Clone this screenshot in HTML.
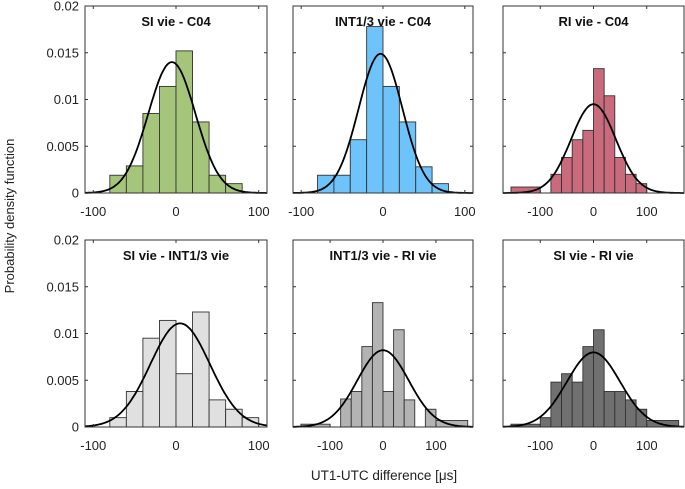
<!DOCTYPE html>
<html><head><meta charset="utf-8"><style>
body{margin:0;background:#fff}
svg{display:block;font-family:"Liberation Sans",Arial,sans-serif}
</style></head><body>
<svg id="chart" width="685" height="489" viewBox="0 0 685 489" xmlns="http://www.w3.org/2000/svg">
<text x="0" y="0" transform="translate(14,216) rotate(-90)" text-anchor="middle" font-size="13" fill="#222">Probability density function</text>
<text x="384" y="480" text-anchor="middle" font-size="13.5" fill="#222">UT1-UTC difference [μs]</text>
</svg>
<script>
const titles = ["SI vie - C04","INT1/3 vie - C04","RI vie - C04","SI vie - INT1/3 vie","INT1/3 vie - RI vie","SI vie - RI vie"];
const colors = ["#a5c57a","#6ec4fa","#c96b7c","#e0e0e0","#b3b3b3","#707070"];
const binEdges = [
  [-80,-60,-40,-20,0,20,40,60,80],
  [-80,-60,-40,-20,0,20,40,60,80],
  [-155,-100,-80,-60,-40,-20,0,20,40,60,80,100],
  [-80,-60,-40,-20,0,20,40,60,80,100],
  [-155,-100,-80,-60,-40,-20,0,20,40,60,80,100,160],
  [-155,-100,-80,-60,-40,-20,0,20,40,60,80,100,160]
];
const densities = [
  [0.0019,0.0029,0.0085,0.0114,0.0152,0.0076,0.0019,0.001],
  [0.0019,0.0019,0.0057,0.0178,0.0114,0.0076,0.0028,0.001],
  [0.00064,0,0.002,0.0038,0.0057,0.0067,0.0133,0.0104,0.0038,0.002,0.001],
  [0.001,0.0038,0.0095,0.0114,0.0057,0.0123,0.0029,0.0019,0.001],
  [0.0003,0,0.003,0.0038,0.0086,0.0133,0.0038,0.0104,0.0029,0,0.0019,0.0007],
  [0.0003,0.001,0.0048,0.0057,0.0048,0.0086,0.0104,0.0038,0.0038,0.0029,0.0019,0.0007]
];
const fitMean = [-5,-3,0,5,0,0];
const fitSigma = [28.5,26.8,42,36,48.6,50];
const xRanges = [[-110,110],[-110,110],[-170,170],[-110,110],[-170,170],[-170,170]];
const xTicks = [-100,0,100];
const yTicks = [0,0.005,0.01,0.015,0.02];
const yTickLabels = ["0","0.005","0.01","0.015","0.02"];

const NS="http://www.w3.org/2000/svg";
const svg=document.getElementById('chart');
const boxX=[[85,267],[293,473],[503,684]];
const boxY=[[6,193],[240,427]];
function mk(tag,attrs,parent){const e=document.createElementNS(NS,tag);for(const k in attrs)e.setAttribute(k,attrs[k]);(parent||svg).appendChild(e);return e;}

for(let p=0;p<6;p++){
  const col=p%3,row=Math.floor(p/3);
  const [x0,x1]=boxX[col],[y0,y1]=boxY[row];
  const [d0,d1]=xRanges[p];
  const sx=v=>x0+(v-d0)/(d1-d0)*(x1-x0);
  const sy=v=>y1-v/0.02*(y1-y0);
  const g=mk('g',{});
  
  
  const e=binEdges[p],d=densities[p];
  for(let i=0;i<d.length;i++){
    if(d[i]<=0)continue;
    const r=mk('rect',{x:sx(e[i]),y:sy(d[i]),width:sx(e[i+1])-sx(e[i]),height:sy(0)-sy(d[i]),fill:colors[p],stroke:'#333','stroke-width':0.9},g);
    
    
  }
  let pts=[];
  for(let k=0;k<=200;k++){
    const v=d0+(d1-d0)*k/200;
    const y=Math.exp(-0.5*Math.pow((v-fitMean[p])/fitSigma[p],2))/(fitSigma[p]*Math.sqrt(2*Math.PI));
    pts.push(sx(v).toFixed(1)+','+sy(y).toFixed(1));
  }
  const c=mk('polyline',{points:pts.join(' '),fill:'none',stroke:'#000','stroke-width':1.8},g);
  
  
  const b=mk('rect',{x:x0,y:y0,width:x1-x0,height:y1-y0,fill:'none',stroke:'#333','stroke-width':1},g);
  
  
  yTicks.forEach((t,i)=>{
    const y=sy(t);
    mk('line',{x1:x0,x2:x0+3,y1:y,y2:y,stroke:'#333'},g);
    mk('line',{x1:x1,x2:x1-3,y1:y,y2:y,stroke:'#333'},g);
    if(col===0){
      const tl=mk('text',{x:x0-6,y:y+4.5,'text-anchor':'end','font-size':13,fill:'#222'},g);
      tl.textContent=yTickLabels[i];
      
      
    }
  });
  xTicks.forEach(t=>{
    const x=sx(t);
    mk('line',{x1:x,x2:x,y1:y1,y2:y1-3,stroke:'#333'},g);
    mk('line',{x1:x,x2:x,y1:y0,y2:y0+3,stroke:'#333'},g);
    const tl=mk('text',{x:x,y:y1+23,'text-anchor':'middle','font-size':13,fill:'#222'},g);
    tl.textContent=String(t);
    
    
  });
  const tt=mk('text',{x:(x0+x1)/2,y:y0+20,'text-anchor':'middle','font-size':13,'font-weight':'bold',fill:'#111'},g);
  tt.textContent=titles[p];
  
  
}
</script>
</body></html>
